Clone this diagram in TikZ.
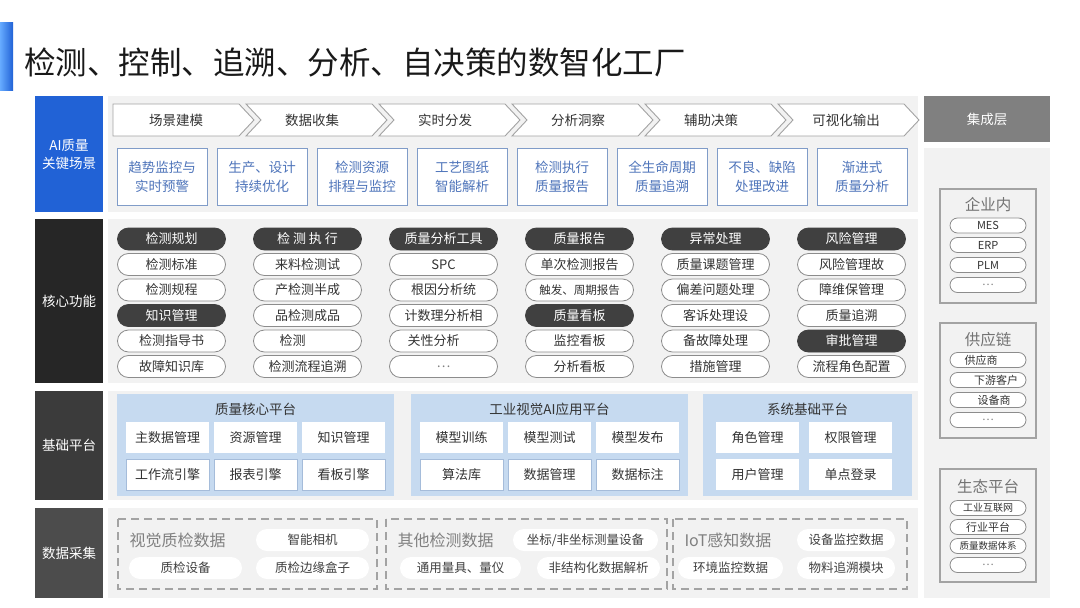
\documentclass[tikz,border=0pt]{standalone}
\usepackage{fontspec}
\setmainfont{Noto Sans CJK SC}
\usepackage{tikz}

\definecolor{aiblue}{RGB}{33,98,214}
\definecolor{rowbg}{RGB}{242,242,242}
\definecolor{scenline}{RGB}{128,156,200}
\definecolor{scentext}{RGB}{78,116,186}
\definecolor{pillline}{RGB}{140,140,140}
\definecolor{headfill}{RGB}{64,64,64}
\definecolor{platfill}{RGB}{198,218,240}
\definecolor{cellline}{RGB}{165,188,218}
\definecolor{txt}{RGB}{51,51,51}

\begin{document}
\begin{tikzpicture}[x=1pt,y=-1pt]
	\tikzstyle{side}=[text=white,font=\fontsize{13.5}{18}\selectfont,align=center,inner sep=0,minimum width=68]
	\tikzstyle{chev}=[draw=pillline!80,fill=white,line width=0.9]
	\tikzstyle{chevtext}=[text=txt,font=\fontsize{13.5}{16}\selectfont]
	\tikzstyle{scen}=[draw=scenline,fill=white,text=scentext,line width=0.9,minimum width=90,minimum height=57,align=center,inner sep=0,font=\fontsize{13.5}{19}\selectfont]
	\tikzstyle{pill}=[draw=pillline,fill=white,text=txt,line width=0.8,rounded corners=11,minimum width=108,minimum height=22,inner sep=0,font=\fontsize{13}{15}\selectfont]
	\tikzstyle{head}=[pill,draw=headfill,fill=headfill,text=white]
	\tikzstyle{cell}=[fill=white,text=txt,minimum width=83,minimum height=31,inner sep=0,font=\fontsize{13}{15}\selectfont]
	\tikzstyle{tag}=[fill=white,text=headfill,rounded corners=11,minimum height=22,inner sep=0,font=\fontsize{12.5}{15}\selectfont]
	\tikzstyle{ext}=[draw=pillline,fill=white,text=txt,line width=0.8,rounded corners=7.5,minimum width=76,minimum height=15,inner sep=0,font=\fontsize{11}{13}\selectfont]
	\tikzstyle{group}=[draw=pillline!80,line width=2]

	\useasboundingbox (0,0) rectangle (1080,608);
	\fill[white] (0,0) rectangle (1080,608);

	\shade[left color=cyan!45!blue!60,right color=aiblue] (0,22) rectangle (13,90);
	\node[anchor=west,text=black!90,font=\fontsize{31.5}{34}\selectfont,inner sep=0] (title) at (24,62) {检测、控制、追溯、分析、自决策的数智化工厂};

	\node[side,fill=aiblue,minimum height=116] (ai) at (69,154) {AI质量\\关键场景};
	\node[side,fill=black!85,minimum height=164] (core) at (69,301) {核心功能};
	\node[side,fill=black!77,minimum height=109] (base) at (69,445.5) {基础平台};
	\node[side,fill=black!70,minimum height=90] (data) at (69,553) {数据采集};

	\fill[rowbg] (108,96) rectangle (918,212);
	\fill[rowbg] (108,219) rectangle (918,383);
	\fill[rowbg] (108,391) rectangle (918,500);
	\fill[rowbg] (108,508) rectangle (918,598);
	\fill[rowbg] (924,148) rectangle (1050,598);

	% scenario flow
	\draw[chev] (113,104) -- (239,104) -- (254,120) -- (239,136) -- (113,136) -- cycle;
	\draw[chev] (246,104) -- (372,104) -- (387,120) -- (372,136) -- (246,136) -- (261,120) -- cycle;
	\draw[chev] (379,104) -- (505,104) -- (520,120) -- (505,136) -- (379,136) -- (394,120) -- cycle;
	\draw[chev] (512,104) -- (638,104) -- (653,120) -- (638,136) -- (512,136) -- (527,120) -- cycle;
	\draw[chev] (645,104) -- (771,104) -- (786,120) -- (771,136) -- (645,136) -- (660,120) -- cycle;
	\draw[chev] (778,104) -- (904,104) -- (919,120) -- (904,136) -- (778,136) -- (793,120) -- cycle;
	\node[chevtext] (f1) at (176,120) {场景建模};
	\node[chevtext] (f2) at (312,120) {数据收集};
	\node[chevtext] (f3) at (445,120) {实时分发};
	\node[chevtext] (f4) at (578,120) {分析洞察};
	\node[chevtext] (f5) at (711,120) {辅助决策};
	\node[chevtext] (f6) at (846,120) {可视化输出};

	\node[scen] (s1) at (162,176.5) {趋势监控与\\实时预警};
	\node[scen] (s2) at (262,176.5) {生产、设计\\持续优化};
	\node[scen] (s3) at (362,176.5) {检测资源\\排程与监控};
	\node[scen] (s4) at (462,176.5) {工艺图纸\\智能解析};
	\node[scen] (s5) at (562,176.5) {检测执行\\质量报告};
	\node[scen] (s6) at (662,176.5) {全生命周期\\质量追溯};
	\node[scen] (s7) at (762,176.5) {不良、缺陷\\处理改进};
	\node[scen] (s8) at (862,176.5) {渐进式\\质量分析};

	% core functions
	\node[head] (c1a) at (171.5,239) {检测规划};
	\node[pill] (c1b) at (171.5,264.5) {检测标准};
	\node[pill] (c1c) at (171.5,290) {检测规程};
	\node[head] (c1d) at (171.5,315.5) {知识管理};
	\node[pill] (c1e) at (171.5,341) {检测指导书};
	\node[pill] (c1f) at (171.5,366.5) {故障知识库};

	\node[head] (c2a) at (307.5,239) {检 测 执 行};
	\node[pill] (c2b) at (307.5,264.5) {来料检测试};
	\node[pill] (c2c) at (307.5,290) {产检测半成};
	\node[pill] (c2d) at (307.5,315.5) {品检测成品};
	\node[pill] (c2e) at (307.5,341) {检测\hspace*{30pt}};
	\node[pill] (c2f) at (307.5,366.5) {检测流程追溯};

	\node[head] (c3a) at (443.5,239) {质量分析工具};
	\node[pill] (c3b) at (443.5,264.5) {SPC};
	\node[pill] (c3c) at (443.5,290) {根因分析统};
	\node[pill] (c3d) at (443.5,315.5) {计数理分析相};
	\node[pill] (c3e) at (443.5,341) {关性分析\hspace*{20pt}};
	\node[pill,text=gray] (c3f) at (443.5,366.5) {…};

	\node[head] (c4a) at (579.5,239) {质量报告};
	\node[pill] (c4b) at (579.5,264.5) {单次检测报告};
	\node[pill,font=\fontsize{11.5}{14}\selectfont] (c4c) at (579.5,290) {触发、周期报告};
	\node[head] (c4d) at (579.5,315.5) {质量看板};
	\node[pill] (c4e) at (579.5,341) {监控看板};
	\node[pill] (c4f) at (579.5,366.5) {分析看板};

	\node[head] (c5a) at (715.5,239) {异常处理};
	\node[pill] (c5b) at (715.5,264.5) {质量课题管理};
	\node[pill] (c5c) at (715.5,290) {偏差问题处理};
	\node[pill] (c5d) at (715.5,315.5) {客诉处理设};
	\node[pill] (c5e) at (715.5,341) {备故障处理};
	\node[pill] (c5f) at (715.5,366.5) {措施管理};

	\node[head] (c6a) at (851.5,239) {风险管理};
	\node[pill] (c6b) at (851.5,264.5) {风险管理故};
	\node[pill] (c6c) at (851.5,290) {障维保管理};
	\node[pill] (c6d) at (851.5,315.5) {质量追溯};
	\node[head] (c6e) at (851.5,341) {审批管理};
	\node[pill] (c6f) at (851.5,366.5) {流程角色配置};

	% platforms
	\fill[platfill] (117,394) rectangle (394,496);
	\fill[platfill] (411,394) rectangle (688,496);
	\fill[platfill] (703,394) rectangle (912,496);
	\node[text=txt,font=\fontsize{13.5}{16}\selectfont] (p1) at (255.5,409) {质量核心平台};
	\node[text=txt,font=\fontsize{13.5}{16}\selectfont] (p2) at (549.5,409) {工业视觉AI应用平台};
	\node[text=txt,font=\fontsize{13.5}{16}\selectfont] (p3) at (807.5,409) {系统基础平台};

	\node[cell] (p1a) at (167.5,437.5) {主数据管理};
	\node[cell] (p1b) at (255.5,437.5) {资源管理};
	\node[cell] (p1c) at (343.5,437.5) {知识管理};
	\node[cell,draw=cellline] (p1d) at (167.5,474.5) {工作流引擎};
	\node[cell,draw=cellline] (p1e) at (255.5,474.5) {报表引擎};
	\node[cell,draw=cellline] (p1f) at (343.5,474.5) {看板引擎};

	\node[cell] (p2a) at (461.5,437.5) {模型训练};
	\node[cell] (p2b) at (549.5,437.5) {模型测试};
	\node[cell] (p2c) at (637.5,437.5) {模型发布};
	\node[cell,draw=cellline] (p2d) at (461.5,474.5) {算法库};
	\node[cell,draw=cellline] (p2e) at (549.5,474.5) {数据管理};
	\node[cell,draw=cellline] (p2f) at (637.5,474.5) {数据标注};

	\node[cell] (p3a) at (757.5,437.5) {角色管理};
	\node[cell] (p3b) at (850.5,437.5) {权限管理};
	\node[cell] (p3c) at (757.5,474.5) {用户管理};
	\node[cell] (p3d) at (850.5,474.5) {单点登录};

	% data sources
	\draw[draw=pillline!80,line width=1.4,dash pattern=on 8pt off 5pt] (118,519) rectangle (377,589);
	\draw[draw=pillline!80,line width=1.4,dash pattern=on 8pt off 5pt] (386,519) rectangle (667,589);
	\draw[draw=pillline!80,line width=1.4,dash pattern=on 8pt off 5pt] (673,519) rectangle (907,589);

	\node[anchor=west,text=gray,font=\fontsize{16}{18}\selectfont] (d1) at (126,540) {视觉质检数据};
	\node[tag,minimum width=113] (d1a) at (312.5,540) {智能相机};
	\node[tag,minimum width=113] (d1b) at (185.5,568) {质检设备};
	\node[tag,minimum width=113] (d1c) at (312.5,568) {质检边缘盒子};

	\node[anchor=west,text=gray,font=\fontsize{16}{18}\selectfont] (d2) at (394,540) {其他检测数据};
	\node[tag,minimum width=145] (d2a) at (585.5,540) {坐标/非坐标测量设备};
	\node[tag,minimum width=121] (d2b) at (460.5,568) {通用量具、量仪};
	\node[tag,minimum width=123] (d2c) at (598.5,568) {非结构化数据解析};

	\node[anchor=west,text=gray,font=\fontsize{16}{18}\selectfont] (d3) at (681,540) {IoT感知数据};
	\node[tag,minimum width=98] (d3a) at (846,540) {设备监控数据};
	\node[tag,minimum width=105] (d3b) at (730.5,568) {环境监控数据};
	\node[tag,minimum width=98] (d3c) at (846,568) {物料追溯模块};

	% integration
	\node[fill=gray,text=white,minimum width=126,minimum height=46,font=\fontsize{13.5}{16}\selectfont] (int) at (987,119) {集成层};

	\draw[group] (940,189) rectangle (1036,303);
	\node[text=gray!90!black,font=\fontsize{15.5}{18}\selectfont] (g1) at (988,205) {企业内};
	\node[ext] (g1a) at (988,225.5) {MES};
	\node[ext] (g1b) at (988,245) {ERP};
	\node[ext] (g1c) at (988,265) {PLM};
	\node[ext,text=gray] (g1d) at (988,285) {…};

	\draw[group] (940,323) rectangle (1036,438);
	\node[text=gray!90!black,font=\fontsize{15.5}{18}\selectfont] (g2) at (988,340) {供应链};
	\node[ext] (g2a) at (988,360) {供应商\hspace*{14pt}};
	\node[ext] (g2b) at (988,380) {\hspace*{16pt}下游客户};
	\node[ext] (g2c) at (988,400) {\hspace*{12pt}设备商};
	\node[ext,text=gray] (g2d) at (988,420) {…};

	\draw[group] (940,469) rectangle (1036,582);
	\node[text=gray!90!black,font=\fontsize{15.5}{18}\selectfont] (g3) at (988,487) {生态平台};
	\node[ext,font=\fontsize{10}{12}\selectfont] (g3a) at (988,508) {工业互联网};
	\node[ext] (g3b) at (988,527) {行业平台};
	\node[ext,font=\fontsize{9.5}{12}\selectfont] (g3c) at (988,546) {质量数据体系};
	\node[ext,text=gray] (g3d) at (988,565) {…};
\end{tikzpicture}
\end{document}
